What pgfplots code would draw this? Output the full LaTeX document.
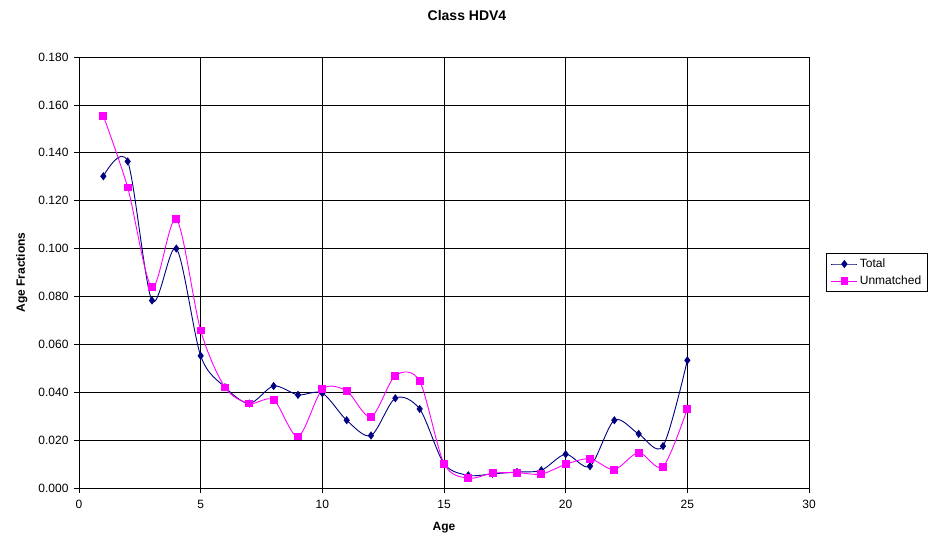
\documentclass[border=0pt]{standalone}
\usepackage{pgfplots}
\pgfplotsset{compat=1.18}
\usepackage{fontspec}
\setmainfont{Liberation Sans}
\definecolor{navyc}{RGB}{0,0,128}
\definecolor{magc}{RGB}{255,0,255}
\begin{document}
\begin{tikzpicture}
\path[use as bounding box] (0,0) rectangle (942bp,540bp);
\begin{axis}[
  at={(79bp,52bp)}, anchor=south west,
  width=730bp, height=431bp, scale only axis,
  xmin=0, xmax=30, ymin=0, ymax=0.18,
  xtick={0,5,...,30},
  ytick={0,0.02,...,0.181},
  grid=major,
  major grid style={black, line width=0.6bp},
  axis line style={black, line width=0.6bp},
  tick align=outside, tick pos=left,
  major tick length=5bp,
  tick style={black, line width=0.6bp},
  /pgf/number format/assume math mode=true,
  ticklabel style={font=\fontsize{12bp}{14bp}\selectfont},
  xticklabel style={yshift=-3.5bp},
  yticklabel style={xshift=-2bp, /pgf/number format/fixed, /pgf/number format/fixed zerofill, /pgf/number format/precision=3},
  scaled y ticks=false,
  xlabel={\textbf{Age}},
  ylabel={\textbf{Age Fractions}},
  xlabel style={at={(axis description cs:0.5,0)}, anchor=center, yshift=-40bp, font=\fontsize{12bp}{14bp}\selectfont},
  ylabel style={at={(axis description cs:-0.0785,0.5)}, anchor=center, font=\fontsize{12bp}{14bp}\selectfont},
  title={\textbf{Class HDV4}},
  every axis title shift=0pt,
  title style={at={(axis description cs:0.5315,1)}, anchor=center, yshift=42bp, font=\fontsize{14bp}{16bp}\selectfont},
  legend style={at={(axis description cs:1.0235,0.545)}, anchor=north west, draw=black, line width=0.6bp, font=\fontsize{12bp}{14bp}\selectfont, inner xsep=4.5bp, inner ysep=3.5bp, row sep=3bp},
  legend image code/.code={\draw[mark repeat=2, mark phase=2, #1] plot coordinates {(0bp,0bp) (13bp,0bp) (26bp,0bp)};},
  legend cell align=left,
]
\addplot[navyc, line width=0.9bp, smooth, tension=0.5, mark=diamond*, mark size=3.4bp, mark options={solid, fill=navyc, draw=navyc}] coordinates {
(1,0.1302) (2,0.1364) (3,0.0783) (4,0.1000) (5,0.0552) (6,0.0421) (7,0.0353) (8,0.0426) (9,0.0389) (10,0.0396) (11,0.0283) (12,0.0219) (13,0.0375) (14,0.0330) (15,0.0102) (16,0.0053) (17,0.0059) (18,0.0067) (19,0.0074) (20,0.0141) (21,0.0091) (22,0.0283) (23,0.0226) (24,0.0175) (25,0.0533)
};
\addlegendentry{Total}
\addplot[magc, line width=0.9bp, smooth, tension=0.5, mark=square*, mark size=3.4bp, mark options={solid, fill=magc, draw=magc}] coordinates {
(1,0.1554) (2,0.1255) (3,0.0838) (4,0.1123) (5,0.0658) (6,0.0420) (7,0.0353) (8,0.0368) (9,0.0215) (10,0.0412) (11,0.0405) (12,0.0297) (13,0.0469) (14,0.0446) (15,0.0102) (16,0.0041) (17,0.0062) (18,0.0064) (19,0.0058) (20,0.0099) (21,0.0122) (22,0.0077) (23,0.0148) (24,0.0089) (25,0.0331)
};
\addlegendentry{Unmatched}
\end{axis}
\end{tikzpicture}
\end{document}
